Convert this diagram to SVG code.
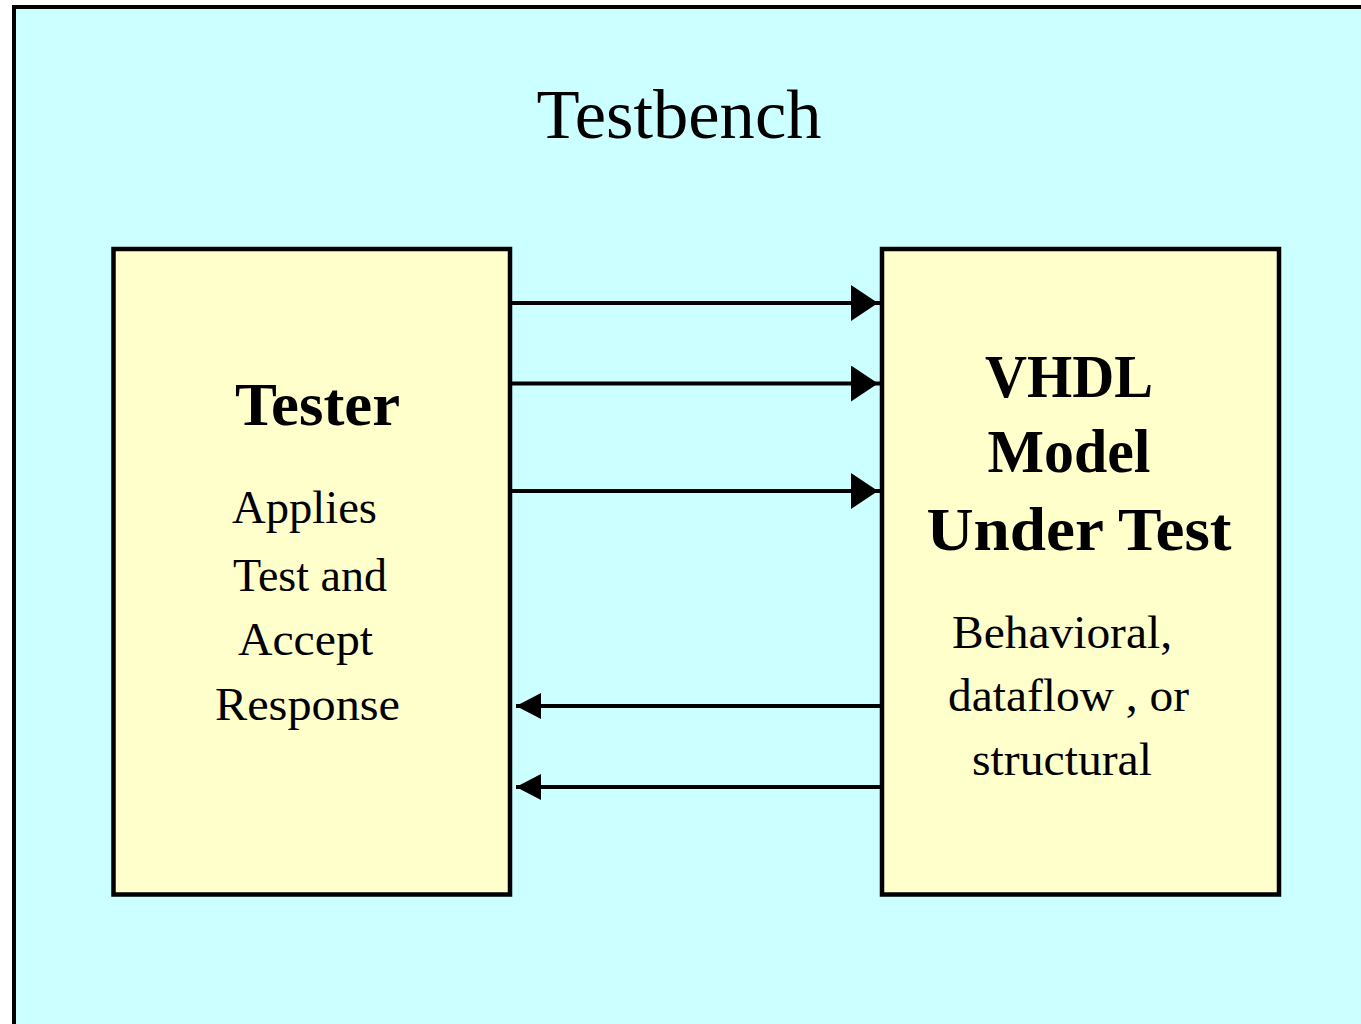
<svg xmlns="http://www.w3.org/2000/svg" width="1361" height="1024" viewBox="0 0 1361 1024">
<style>
.frame{fill:#CCFFFF;stroke:#000;stroke-width:4}
.box{fill:#FFFFCC;stroke:#000;stroke-width:4.5}
.t{font-family:"Liberation Serif","Times New Roman",serif;fill:#000;text-anchor:middle}
.title{font-size:70px}
.bold{font-size:62px;font-weight:bold}
.norm{font-size:47px}
.conn{stroke:#000;stroke-width:4;fill:none}
</style>
<defs>
<marker id="bigHead" markerUnits="userSpaceOnUse" markerWidth="30" markerHeight="36" refX="29" refY="18" orient="auto" viewBox="0 0 30 36">
<path d="M0,0 L27,18 L0,36 Z" fill="#000"/>
</marker>
<marker id="smallHead" markerUnits="userSpaceOnUse" markerWidth="26" markerHeight="26" refX="25" refY="13" orient="auto" viewBox="0 0 26 26">
<path d="M0,0 L25,13 L0,26 Z" fill="#000"/>
</marker>
</defs>
<rect x="0" y="0" width="1361" height="1024" fill="#FFFFFF"/>
<rect class="frame" x="14" y="7" width="1400" height="1100"/>
<text class="t title" x="679" y="138" textLength="285" lengthAdjust="spacingAndGlyphs">Testbench</text>
<g id="tester">
<rect class="box" x="113.5" y="249" width="396.5" height="645.5"/>
<text class="t bold" x="317.5" y="425" textLength="165" lengthAdjust="spacingAndGlyphs">Tester</text>
<text class="t norm" x="304.5" y="523" textLength="145" lengthAdjust="spacingAndGlyphs">Applies</text>
<text class="t norm" x="310" y="591" textLength="154" lengthAdjust="spacingAndGlyphs">Test and</text>
<text class="t norm" x="305.5" y="655" textLength="135" lengthAdjust="spacingAndGlyphs">Accept</text>
<text class="t norm" x="307.5" y="720" textLength="185" lengthAdjust="spacingAndGlyphs">Response</text>
</g>
<g id="model">
<rect class="box" x="882" y="249" width="397" height="645.5"/>
<text class="t bold" x="1069" y="397" textLength="168" lengthAdjust="spacingAndGlyphs">VHDL</text>
<text class="t bold" x="1069" y="472" textLength="163" lengthAdjust="spacingAndGlyphs">Model</text>
<text class="t bold" x="1079" y="550" textLength="305" lengthAdjust="spacingAndGlyphs">Under Test</text>
<text class="t norm" x="1062" y="648" textLength="220" lengthAdjust="spacingAndGlyphs">Behavioral,</text>
<text class="t norm" x="1068.5" y="711" textLength="241" lengthAdjust="spacingAndGlyphs">dataflow , or</text>
<text class="t norm" x="1062" y="775" textLength="180" lengthAdjust="spacingAndGlyphs">structural</text>
</g>
<g id="connectors">
<line class="conn" x1="512" y1="303" x2="880" y2="303" marker-end="url(#bigHead)"/>
<line class="conn" x1="512" y1="383.5" x2="880" y2="383.5" marker-end="url(#bigHead)"/>
<line class="conn" x1="512" y1="491" x2="880" y2="491" marker-end="url(#bigHead)"/>
<line class="conn" x1="880" y1="706" x2="516" y2="706" marker-end="url(#smallHead)"/>
<line class="conn" x1="880" y1="787" x2="516" y2="787" marker-end="url(#smallHead)"/>
</g>
</svg>
